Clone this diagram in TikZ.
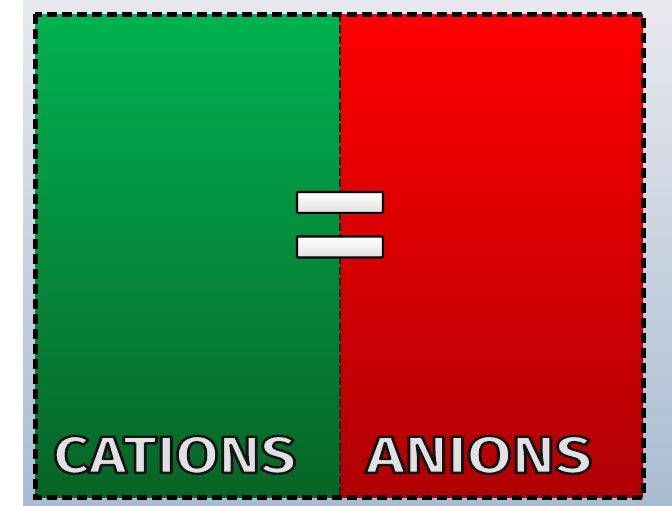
\documentclass[tikz,border=0pt]{standalone}
\usepackage{fontspec}
\setmainfont{Fira Sans}
\usepackage{graphicx}
\usetikzlibrary{shadows}
\definecolor{bgtop}{RGB}{232,233,238}
\definecolor{bgbot}{RGB}{168,188,210}
\definecolor{gtop}{RGB}{0,178,80}
\definecolor{gbot}{RGB}{8,100,38}
\definecolor{rtop}{RGB}{255,0,0}
\definecolor{rbot}{RGB}{175,0,4}
\definecolor{txtfill}{RGB}{225,225,228}
\tikzset{
  border/.style={draw=black, line width=5pt, dash pattern=on 10pt off 5pt},
  divider/.style={draw=black!85, line width=2.2pt, dash pattern=on 8pt off 3pt},
  eqbar/.style={draw=black, line width=2.4pt, top color=white, bottom color=black!12, minimum width=86pt, minimum height=21pt, inner sep=0pt, rounded corners=1pt, drop shadow={shadow xshift=1pt, shadow yshift=-1.5pt, opacity=0.35}},
  lbl/.style={inner sep=0pt, anchor=south west, text=txtfill}
}
\newcommand{\outlined}[1]{\special{pdf:code q 2 Tr 0.45 w 0.08 0.08 0.08 RG 1 j}#1\special{pdf:code Q}}
\begin{document}
\begin{tikzpicture}[x=1pt,y=-1pt]
\useasboundingbox (0,0) rectangle (672,506);
\fill[white] (0,0) rectangle (672,506);
\shade[top color=bgtop, bottom color=bgbot] (23,0) rectangle (672,506);
\shade[top color=gtop, bottom color=gbot] (35,14) rectangle (340,497);
\shade[top color=rtop, bottom color=rbot] (340,14) rectangle (643,497);
\coordinate (dtop) at (340,14);
\coordinate (dbot) at (340,497);
\draw[divider] (dtop) -- (dbot);
\draw[border] (35,14) rectangle (643,497);
\node[eqbar] (bar1) at (340,202.5) {};
\node[eqbar] (bar2) at (340,247) {};
\node[lbl] (cat) at (53,474) {\resizebox{243pt}{37pt}{\outlined{\bfseries CATIONS}}};
\node[lbl] (an) at (366,474) {\resizebox{226pt}{37pt}{\outlined{\bfseries ANIONS}}};
\end{tikzpicture}
\end{document}
